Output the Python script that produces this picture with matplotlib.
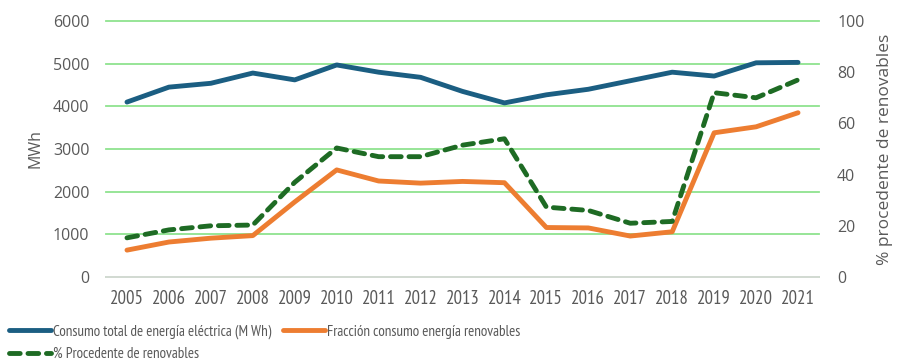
import matplotlib
matplotlib.use('Agg')
import matplotlib.pyplot as plt
from matplotlib import font_manager

years = [str(y) for y in range(2005, 2022)]
consumo_total = [4100, 4450, 4540, 4780, 4620, 4970, 4800, 4680, 4350, 4080,
                 4270, 4400, 4600, 4800, 4710, 5020, 5030]
fraccion_renovable = [630, 820, 910, 970, 1760, 2510, 2250, 2200, 2240, 2210,
                      1160, 1150, 960, 1060, 3380, 3520, 3850]
pct_renovable = [15.3, 18.4, 20.0, 20.3, 37.0, 50.4, 47.0, 47.0, 51.5, 54.0,
                 27.3, 26.0, 21.0, 21.7, 72.0, 70.0, 77.0]


def pick_font(candidates):
    installed = {f.name for f in font_manager.fontManager.ttflist}
    for c in candidates:
        if c in installed:
            return c
    return 'DejaVu Sans'


narrow = pick_font(['Liberation Sans Narrow', 'PT Sans Narrow', 'Roboto Condensed',
                    'Open Sans Condensed', 'Archivo Narrow', 'Asap Condensed'])
regular = pick_font(['Open Sans', 'Noto Sans'])
plt.rcParams['font.family'] = [regular, 'DejaVu Sans']
text_color = '#595959'

fig = plt.figure(figsize=(9.1, 3.62), dpi=100)
ax = fig.add_axes([0.1165, 0.2348, 0.7835, 0.7072])
ax2 = ax.twinx()

x = range(len(years))
l1, = ax.plot(x, consumo_total, color='#1B5E82', lw=3.5, solid_capstyle='round',
              label='Consumo total de energía eléctrica (M Wh)', zorder=3)
l2, = ax.plot(x, fraccion_renovable, color='#ED7D31', lw=3.5, solid_capstyle='round',
              label='Fracción consumo energía renovables', zorder=3)
l3, = ax2.plot(x, pct_renovable, color='#1E6B24', lw=3.5, dashes=(2.2, 1.6),
               dash_capstyle='round', label='% Procedente de renovables')

ax.set_xlim(-0.5, len(years) - 0.5)
ax.set_ylim(0, 6000)
ax.set_yticks(range(0, 6001, 1000))
ax2.set_ylim(0, 100)
ax2.set_yticks(range(0, 101, 20))
ax.set_xticks(list(x))
ax.set_xticklabels(years, fontfamily=[narrow, 'DejaVu Sans'], fontsize=13.5)

ax.grid(axis='y', color='#8FE38F', lw=1.3)
for g in ax.get_ygridlines():
    g.set_clip_on(False)
ax.set_axisbelow(True)
for a in (ax, ax2):
    for s in a.spines.values():
        s.set_visible(False)
    a.tick_params(length=0, colors=text_color)
ax.tick_params(axis='y', labelsize=11.5, pad=12)
ax2.tick_params(axis='y', labelsize=11.5, pad=13)
ax.spines['bottom'].set_visible(True)
ax.spines['bottom'].set_color('#D9D9D9')
ax.spines['bottom'].set_linewidth(1.3)
ax.tick_params(axis='x', pad=9)

ax.set_ylabel('MWh', color=text_color, fontsize=11.5, labelpad=7)
ax2.set_ylabel('% procedente de renovables', color=text_color, fontsize=12.5, labelpad=9)

fig.legend(handles=[l1, l3, l2], ncol=2, loc='upper left',
           bbox_to_anchor=(0.008, 0.108), frameon=False,
           prop={'family': [narrow, 'DejaVu Sans'], 'size': 10.8},
           labelcolor=text_color, handlelength=2.8, handletextpad=0.15,
           columnspacing=0.75, borderaxespad=0, borderpad=0.1, labelspacing=0.55)

fig.savefig('out.png', dpi=100)
